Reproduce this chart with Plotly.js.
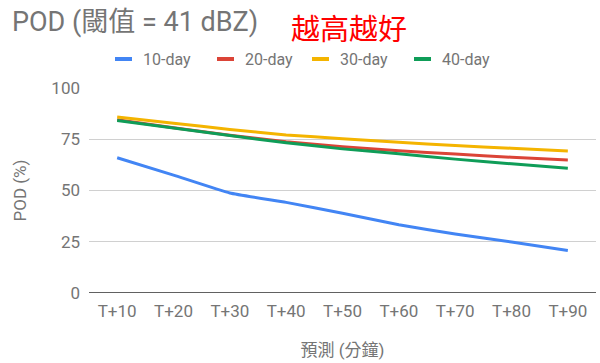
<!DOCTYPE html>
<html><head><meta charset="utf-8">
<script src="https://cdn.plot.ly/plotly-3.0.1.min.js"></script>
<style>html,body{margin:0;padding:0;background:#fff}#chart{width:600px;height:363px}</style>
</head><body><div id="chart"></div>
<script>
const categories = ["T+10","T+20","T+30","T+40","T+50","T+60","T+70","T+80","T+90"];
const day10 = [66, 57.5, 48.8, 44.2, 38.9, 33.3, 28.8, 24.9, 20.7];
const day20 = [84.5, 80.6, 77.0, 73.8, 71.4, 69.4, 67.8, 66.2, 64.9];
const day30 = [85.8, 82.8, 79.8, 77.1, 75.3, 73.5, 71.9, 70.6, 69.3];
const day40 = [84.2, 80.5, 76.8, 73.3, 70.3, 67.9, 65.3, 63.0, 60.9];
const seriesNames = ["10-day","20-day","30-day","40-day"];
const seriesColors = ["#4285F4","#DB4437","#F4B400","#0F9D58"];
const seriesData = [day10, day20, day30, day40];

const traces = seriesData.map((d,i)=>({
  x: categories, y: d, type:'scatter', mode:'lines', name: seriesNames[i],
  line:{color: seriesColors[i], width:3, shape:'spline', smoothing:0.4}, hoverinfo:'skip', showlegend:false
}));

const gray = '#757575';
const W = 600, H = 363, L = 89, R = 4, T = 88, B = 70;
const pw = W - L - R, ph = H - T - B;
const px2x = p => (p - L) / pw;
const px2y = p => (H - B - p) / ph;

// custom legend (short swatches like the reference)
const legendStarts = [115, 217, 312, 414];
const legendY = 59;
const shapes = [{type:'line', xref:'paper', yref:'y', x0:0, x1:1, y0:0, y1:0, line:{color:'#616161', width:2}}];
const annotations = [{text:'越高越好', xref:'paper', yref:'paper', x:px2x(289), xanchor:'left',
    y:px2y(27), yanchor:'middle', showarrow:false,
    font:{size:29, color:'#ff0000', family:'"Noto Sans CJK TC", sans-serif'}}];
seriesNames.forEach((n,i)=>{
  const s = legendStarts[i];
  shapes.push({type:'line', xref:'paper', yref:'paper', x0:px2x(s), x1:px2x(s+17), y0:px2y(legendY), y1:px2y(legendY),
    line:{color:seriesColors[i], width:4}});
  annotations.push({text:n, xref:'paper', yref:'paper', x:px2x(s+26), xanchor:'left', y:px2y(legendY), yanchor:'middle',
    showarrow:false, font:{size:16, color:gray}});
});

const layout = {
  width:W, height:H,
  margin:{l:L, r:R, t:T, b:B},
  paper_bgcolor:'#fff', plot_bgcolor:'#fff',
  font:{family:'Roboto, "Noto Sans CJK TC", sans-serif', color:gray, size:17},
  title:{text:'POD (閾值 = 41 dBZ)', font:{size:27, color:gray, family:'Roboto, "Noto Sans CJK TC", sans-serif'},
    xref:'container', x:12/W, xanchor:'left', yref:'container', y:1-22/H, yanchor:'middle'},
  showlegend:false,
  xaxis:{type:'category', range:[-0.5,8.5], showgrid:false, zeroline:false, showline:false,
    ticks:'', tickfont:{size:17,color:gray}, ticklabelstandoff:6, fixedrange:true,
    title:{text:'預測 (分鐘)', font:{size:17,color:gray}, standoff:24}},
  yaxis:{range:[0,100], tickvals:[0,25,50,75,100], ticktext:['0','25','50','75','100'],
    showgrid:true, gridcolor:'#d0d0d0', gridwidth:1, zeroline:false, showline:false, ticks:'',
    tickfont:{size:17,color:gray}, ticklabelstandoff:8, fixedrange:true,
    title:{text:'POD (%)', font:{size:17,color:gray}, standoff:20}},
  shapes: shapes,
  annotations: annotations
};
Plotly.newPlot('chart', traces, layout, {displayModeBar:false, staticPlot:true});
</script></body></html>
